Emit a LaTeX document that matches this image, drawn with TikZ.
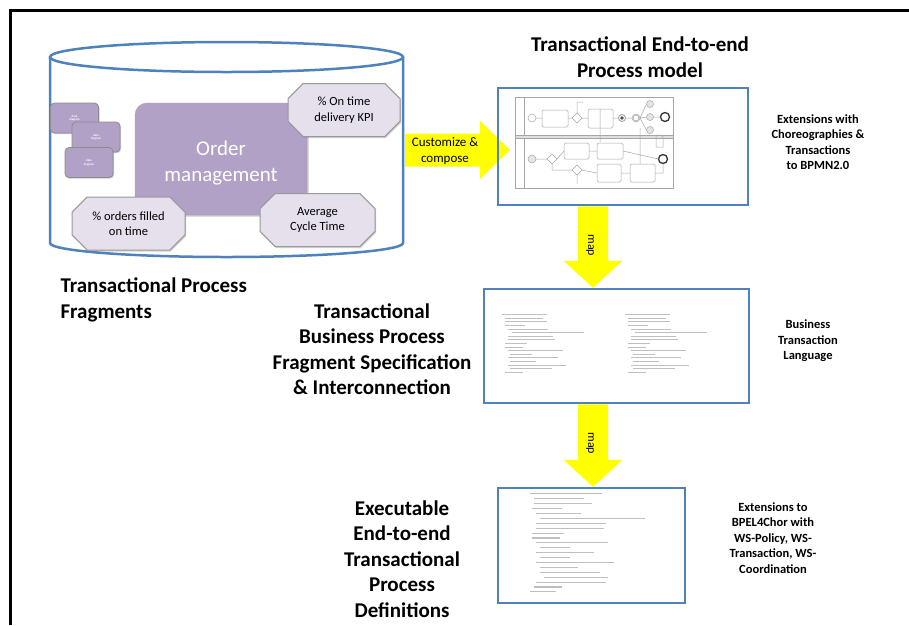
\documentclass[tikz,border=0pt]{standalone}
\usepackage{fontspec}
\setmainfont{Carlito}
\usetikzlibrary{shapes.misc,shadows,calc}

\definecolor{cylblue}{RGB}{79,129,189}
\definecolor{ordpurple}{RGB}{178,161,199}
\definecolor{kpililac}{RGB}{229,224,236}
\definecolor{blockyellow}{RGB}{255,255,0}

\tikzset{
  bigtitle/.style={font=\fontsize{21}{25.5}\selectfont\bfseries, align=center},
  sidenote/.style={font=\fontsize{12.5}{15.5}\selectfont\bfseries, align=center},
  kpi/.style={chamfered rectangle, chamfered rectangle xsep=12pt,
    fill=kpililac, draw=black!40, line width=1pt, align=center,
    font=\fontsize{12.5}{15.5}\selectfont, inner sep=0pt,
    drop shadow={shadow xshift=1pt, shadow yshift=-1.5pt, opacity=0.35}},
  databox/.style={rounded corners=4pt, fill=ordpurple, draw=black!45, line width=0.8pt,
    minimum width=48, minimum height=30, text=white, align=center,
    font=\fontsize{3}{3.5}\selectfont\bfseries,
    drop shadow={shadow xshift=1pt, shadow yshift=-1.2pt, opacity=0.4}},
  specbox/.style={draw=cylblue, line width=2.5pt, inner sep=0pt},
  codeline/.style={draw=gray!50, line width=0.9pt},
  bpmn/.style={draw=gray!70, line width=0.5pt},
}

\begin{document}
\begin{tikzpicture}[x=1pt, y=-1pt]
  \useasboundingbox (0,0) rectangle (909,625);

  % frame
  \draw[line width=3pt] (10,625) -- (10,10) -- (909,10);

  % repository cylinder
  \draw[cylblue, line width=2.5pt, fill=white]
    (50,57) -- (50,243) arc[start angle=180, end angle=0, x radius=176.5, y radius=14]
    -- (403,57);
  \draw[cylblue, line width=2.5pt] (226.5,57) ellipse [x radius=176.5, y radius=15];
  \coordinate (cylright) at (405,150);

  \node[rounded corners=12pt, fill=ordpurple, draw=black!35, minimum width=172,
        minimum height=112,
        drop shadow={shadow xshift=1.5pt, shadow yshift=-1.5pt, opacity=0.4}]
        (ordmgmt) at (221,159) {};
  \node[text=white, align=center, font=\fontsize{21}{25.5}\selectfont] (ordtext)
    at (221,163) {Order\\management};

  \node[databox] (data1) at (74.5,118) {data\\diagram};
  \node[databox] (data2) at (96,137) {data\\diagram};
  \node[databox] (data3) at (89,162.5) {data\\diagram};

  \node[kpi, minimum width=112, minimum height=53] (kpiontime) at (344,110) {\% On time\\delivery KPI};
  \node[kpi, minimum width=113, minimum height=53] (kpifilled) at (128.5,223.5) {\% orders filled\\on time};
  \node[kpi, minimum width=115, minimum height=53] (kpicycle) at (317.5,220) {Average\\Cycle Time};

  \node[bigtitle, align=left, anchor=west] (fragtitle) at (57,300)
    {Transactional Process\\Fragments};

  % customize & compose arrow
  \coordinate (custtip) at (510,150);
  \fill[blockyellow] ($(cylright)+(0,-16.5)$) -- ($(custtip)+(-30,-16.5)$)
    -- ($(custtip)+(-30,-29)$) -- (custtip) -- ($(custtip)+(-30,29)$)
    -- ($(custtip)+(-30,16.5)$) -- ($(cylright)+(0,16.5)$) -- cycle;
  \node[align=center, font=\fontsize{13}{16}\selectfont] (custtext) at (445,151)
    {Customize \&\\compose};

  % model boxes
  \node[specbox, minimum width=250, minimum height=117] (modelbox) at (623,146.5) {};
  \node[specbox, minimum width=265, minimum height=114] (specbox) at (616.5,346) {};
  \node[specbox, minimum width=187, minimum height=115] (execbox) at (591.5,545.5) {};

  % map arrows
  \coordinate (mapline) at (593,0);
  \foreach \from/\to in {modelbox/specbox, specbox/execbox} {
    \coordinate (a) at (\from.south -| mapline);
    \coordinate (b) at (\to.north -| mapline);
    \fill[blockyellow] ($(a)+(-15,0)$) -- ($(b)+(-15,-27)$) -- ($(b)+(-29.5,-27)$)
      -- (b) -- ($(b)+(29.5,-27)$) -- ($(b)+(15,-27)$) -- ($(a)+(15,0)$) -- cycle;
    \node[rotate=-90, font=\fontsize{12}{12}\selectfont] at ($(a)+(-3,39)$) {map};
  }

  % BPMN sketch in the model box
  \draw[bpmn] (515,97) rectangle (673,135) (524,97) -- (524,135);
  \draw[bpmn, fill=gray!25] (515,135) rectangle (673,138);
  \draw[bpmn] (515,138) rectangle (673,188) (524,138) -- (524,188);
  \draw[bpmn] (532,118) circle (4);
  \draw[bpmn, rounded corners=1.5pt] (542,110) rectangle (568,127);
  \draw[bpmn] (577,113) -- (582,118) -- (577,123) -- (572,118) -- cycle;
  \draw[bpmn, rounded corners=1.5pt] (588,109) rectangle (613,128);
  \draw[bpmn, line width=0.9pt] (622,118) circle (3.5);
  \fill[black!70] (622,118) circle (1.8);
  \draw[bpmn] (636,118) circle (4) (636,118) circle (2.8);
  \foreach \y in {104,117,130} \draw[bpmn, fill=gray!20] (650,\y) circle (3.5);
  \draw[black!80, line width=1.3pt] (665,117) circle (4.5);
  \draw[bpmn] (536,118) -- (542,118) (568,118) -- (572,118) (582,118) -- (588,118)
    (613,118) -- (618.5,118) (625.5,118) -- (632,118) (640,118) -- (646.5,117)
    (653.5,117) -- (660.5,117) (640,118) -- (646.5,104) (640,118) -- (646.5,130)
    (577,113) -- (577,102) -- (583,102) (600,109) -- (600,142);
  \draw[bpmn, fill=gray!20] (532,159) circle (4);
  \draw[bpmn] (552,154) -- (557,159) -- (552,164) -- (547,159) -- cycle;
  \draw[bpmn, rounded corners=1.5pt] (564,143) rectangle (589,159);
  \draw[bpmn, rounded corners=1.5pt] (597,143) rectangle (623,159);
  \draw[bpmn] (577,165) -- (582,170) -- (577,175) -- (572,170) -- cycle;
  \draw[bpmn, rounded corners=1.5pt] (597,164) rectangle (621,182);
  \draw[bpmn, rounded corners=1.5pt] (630,164) rectangle (655,182);
  \draw[black!80, line width=1.3pt] (663,159) circle (4.5);
  \draw[bpmn] (656,135) -- (661,135) -- (663,137) -- (663,147) -- (656,147) -- cycle;
  \draw[bpmn] (536,159) -- (547,159) (557,159) -- (564,151) (589,151) -- (597,151)
    (623,151) -- (658.5,159) (552,164) -- (552,170) -- (572,170) (582,170) -- (597,173)
    (621,173) -- (630,173) (655,173) -- (663,173) -- (663,163.5)
    (577,175) -- (577,184) (640,164) -- (640,128);

  % XML listing in the spec box
  \foreach \dx/\len [count=\i] in {0/45,3/38,3/42,3/20,6/40,10/72,6/45,6/47,3/22,
      3/18,6/55,8/22,6/50,8/26,6/58,8/42,3/18} {
    \draw[codeline] (502+\dx,311+3.6*\i) -- ++(\len,0);
    \draw[codeline] (625+\dx,311+3.6*\i) -- ++(\len,0);
  }

  % XML listing in the executable box
  \foreach \dx/\len [count=\i] in {0/72,4/50,4/58,2/30,6/45,10/105,6/70,6/68,2/32,
      2/28,6/72,10/30,6/58,10/30,6/78,10/38,10/60,14/64,6/70,4/28,0/26} {
    \draw[codeline, line width=1.1pt] (530+\dx,489+4.9*\i) -- ++(\len,0);
  }

  % titles and notes
  \node[bigtitle] (modeltitle) at (640,57) {Transactional End-to-end\\Process model};
  \node[bigtitle] (spectitle) at (372,349) {Transactional\\Business Process\\Fragment Specification\\\& Interconnection};
  \node[bigtitle] (exectitle) at (402,559) {Executable\\End-to-end\\Transactional\\Process\\Definitions};
  \node[sidenote] (bpmnnote) at (818,142) {Extensions with\\Choreographies \&\\Transactions\\to BPMN2.0};
  \node[sidenote] (btlnote) at (808,341) {Business\\Transaction\\Language};
  \node[sidenote] (bpelnote) at (773,538) {Extensions to\\BPEL4Chor with\\WS-Policy, WS-\\Transaction, WS-\\Coordination};
\end{tikzpicture}
\end{document}
